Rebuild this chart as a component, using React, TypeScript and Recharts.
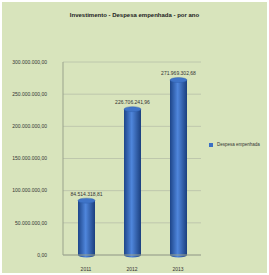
import { BarChart, Bar, XAxis, YAxis, CartesianGrid, Legend, LabelList } from "recharts";

// anos e despesa empenhada (R$)
const anos = ["2011", "2012", "2013"];
const despesa = [84514318.81, 226706241.96, 271969302.68];
const yTicks = [0, 50000000, 100000000, 150000000, 200000000, 250000000, 300000000];

const data = anos.map((ano, i) => ({ ano, despesa: despesa[i] }));

// formato brasileiro 1.234.567,89
function brl(v: number) {
  const [int, dec] = Number(v).toFixed(2).split(".");
  return int.replace(/\B(?=(\d{3})+(?!\d))/g, ".") + "," + dec;
}

function Cylinder(props: any) {
  const { x, y, width, height, index } = props;
  const id = `cyl-${index}`;
  const cx = x + width / 2;
  const ry = 2.5;
  return (
    <g>
      <defs>
        <linearGradient id={id} x1="0" y1="0" x2="1" y2="0">
          <stop offset="0%" stopColor="#1d4589" />
          <stop offset="45%" stopColor="#4f86dc" />
          <stop offset="100%" stopColor="#1b3f7e" />
        </linearGradient>
      </defs>
      <rect x={x} y={y} width={width} height={height} fill={`url(#${id})`} />
      <ellipse cx={cx} cy={y + height} rx={width / 2} ry={ry} fill={`url(#${id})`} />
      <ellipse cx={cx} cy={y} rx={width / 2} ry={ry} fill="#3f74c8" stroke="#2a5aa8" strokeWidth={0.4} />
    </g>
  );
}

const font = "Liberation Sans, Arial, sans-serif";

export default function App() {
  return (
    <div style={{ position: "fixed", left: 0, top: 0, width: 269, height: 275, background: "#fff" }}>
      <div
        style={{
          position: "absolute",
          left: 2,
          top: 2,
          width: 265,
          height: 271,
          background: "#d8e4bc",
        }}
      />
      <div
        style={{
          position: "absolute",
          left: 0,
          top: 12,
          width: 269,
          textAlign: "center",
          fontFamily: font,
          fontSize: 6,
          fontWeight: "bold",
          color: "#222",
        }}
      >
        Investimento - Despesa empenhada - por ano
      </div>
      <div style={{ position: "absolute", left: 0, top: 0 }}>
        <BarChart
          width={269}
          height={275}
          data={data}
          margin={{ top: 62, right: 8, bottom: 6, left: 0 }}
        >
          <CartesianGrid vertical={false} stroke="#b7bfa8" strokeWidth={0.8} />
          <XAxis
            dataKey="ano"
            height={14}
            axisLine={{ stroke: "#9aa38c" }}
            tickLine={false}
            tick={{ fontSize: 5, fill: "#333", fontFamily: font }}
            tickMargin={6}
          />
          <YAxis
            domain={[0, 300000000]}
            ticks={yTicks}
            width={63}
            axisLine={{ stroke: "#9aa38c" }}
            tickLine={false}
            tickMargin={10}
            tickFormatter={brl}
            tick={{ fontSize: 5, fill: "#333", fontFamily: font }}
          />
          <Legend
            layout="vertical"
            align="right"
            verticalAlign="middle"
            iconType="square"
            iconSize={4}
            formatter={(value: any) => (
              <span style={{ color: "#333", whiteSpace: "nowrap" }}>{value}</span>
            )}
            wrapperStyle={{ fontSize: 4.5, fontFamily: font, width: 60, whiteSpace: "nowrap", right: 0, top: 142 }}
          />
          <Bar
            dataKey="despesa"
            name="Despesa empenhada"
            fill="#3a6fc4"
            barSize={17}
            shape={<Cylinder />}
            isAnimationActive={false}
          >
            <LabelList
              dataKey="despesa"
              position="top"
              offset={5}
              formatter={(v: any) => brl(Number(v))}
              style={{ fontSize: 5, fill: "#333", fontFamily: font }}
            />
          </Bar>
        </BarChart>
      </div>
    </div>
  );
}
